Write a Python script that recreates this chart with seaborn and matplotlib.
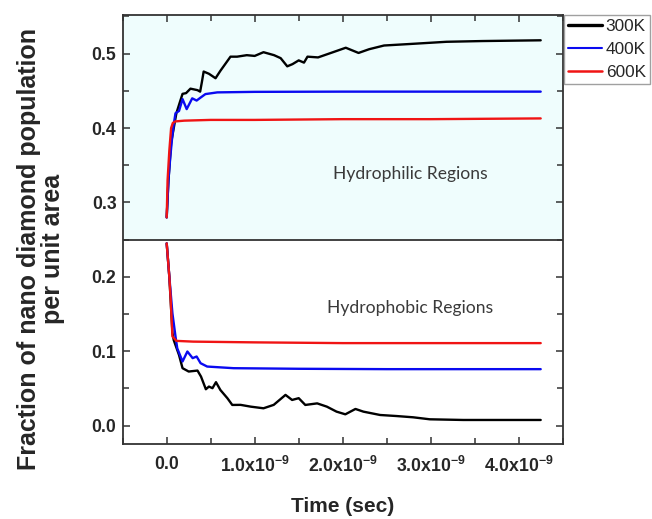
import numpy as np
import pandas as pd
import matplotlib
matplotlib.use("Agg")
import matplotlib.pyplot as plt
import seaborn as sns
from matplotlib import font_manager
from matplotlib.ticker import FixedLocator, FixedFormatter, MultipleLocator, FormatStrFormatter

# ---------------- data (time in ns) ----------------
temps = ["300K", "400K", "600K"]
colors = ["#000000", "#0a0af0", "#f01414"]

phil_300_t = [0, 0.02, 0.05, 0.08, 0.11, 0.15, 0.18, 0.22, 0.27, 0.35, 0.38, 0.40, 0.42, 0.48, 0.555,
              0.61, 0.725, 0.80, 0.91, 1.00, 1.10, 1.22, 1.295, 1.37, 1.43, 1.50, 1.56, 1.60, 1.72,
              1.89, 2.035, 2.18, 2.30, 2.47, 2.76, 3.18, 3.59, 4.25]
phil_300_v = [0.28, 0.33, 0.38, 0.40, 0.42, 0.435, 0.446, 0.447, 0.453, 0.451, 0.449, 0.462, 0.476,
              0.473, 0.467, 0.477, 0.496, 0.496, 0.498, 0.497, 0.502, 0.498, 0.494, 0.483, 0.486,
              0.491, 0.488, 0.496, 0.495, 0.502, 0.508, 0.501, 0.506, 0.511, 0.513, 0.516, 0.517, 0.518]

phil_400_t = [0, 0.02, 0.04, 0.06, 0.08, 0.10, 0.14, 0.18, 0.227, 0.29, 0.34, 0.385, 0.44, 0.575,
              1.0, 2.0, 3.0, 4.25]
phil_400_v = [0.28, 0.33, 0.36, 0.385, 0.405, 0.42, 0.423, 0.439, 0.4255, 0.44, 0.437, 0.441,
              0.4457, 0.448, 0.4487, 0.449, 0.449, 0.449]

phil_600_t = [0, 0.01, 0.03, 0.05, 0.07, 0.10, 0.20, 0.50, 1.0, 2.0, 3.0, 4.25]
phil_600_v = [0.28, 0.33, 0.37, 0.40, 0.407, 0.409, 0.410, 0.411, 0.411, 0.412, 0.412, 0.413]

phob_300_t = [0, 0.03, 0.065, 0.08, 0.14, 0.18, 0.25, 0.35, 0.39, 0.445, 0.48, 0.52, 0.56, 0.61,
              0.69, 0.745, 0.84, 0.955, 1.10, 1.216, 1.35, 1.425, 1.50, 1.575, 1.71, 1.82, 1.93,
              2.03, 2.145, 2.235, 2.425, 2.61, 2.80, 2.99, 3.37, 4.25]
phob_300_v = [0.245, 0.20, 0.125, 0.115, 0.095, 0.0773, 0.0728, 0.0741, 0.066, 0.049, 0.0526,
              0.0504, 0.0585, 0.048, 0.0369, 0.0279, 0.028, 0.0256, 0.0234, 0.028, 0.0414, 0.0346,
              0.037, 0.0279, 0.030, 0.0256, 0.0189, 0.0153, 0.0225, 0.0189, 0.0144, 0.013, 0.0113,
              0.0086, 0.0077, 0.0077]

phob_400_t = [0, 0.03, 0.065, 0.10, 0.12, 0.18, 0.235, 0.295, 0.34, 0.385, 0.46, 0.76, 1.5, 2.5, 4.25]
phob_400_v = [0.245, 0.20, 0.151, 0.12, 0.104, 0.0863, 0.0997, 0.0908, 0.093, 0.084, 0.0795,
              0.0773, 0.0765, 0.076, 0.076]

phob_600_t = [0, 0.03, 0.045, 0.065, 0.11, 0.3, 1.0, 2.0, 3.0, 4.25]
phob_600_v = [0.245, 0.20, 0.17, 0.12, 0.114, 0.113, 0.112, 0.111, 0.111, 0.111]

xtick_vals = [0, 1, 2, 3, 4]
xtick_labels = ["0.0", r"1.0x10$^{-9}$", r"2.0x10$^{-9}$", r"3.0x10$^{-9}$", r"4.0x10$^{-9}$"]

# ---------------- frame ----------------
series = [
    ("300K", "hydrophilic", phil_300_t, phil_300_v),
    ("400K", "hydrophilic", phil_400_t, phil_400_v),
    ("600K", "hydrophilic", phil_600_t, phil_600_v),
    ("300K", "hydrophobic", phob_300_t, phob_300_v),
    ("400K", "hydrophobic", phob_400_t, phob_400_v),
    ("600K", "hydrophobic", phob_600_t, phob_600_v),
]
rows = []
for temp, region, ts, vs in series:
    for t, v in zip(ts, vs):
        rows.append({"time": t * 1e-9, "frac": v, "temp": temp, "region": region})
df = pd.DataFrame(rows)

# ---------------- style ----------------
sns.set_style("ticks")
plt.rcParams["font.family"] = ["Liberation Sans", "DejaVu Sans"]
plt.rcParams["font.weight"] = "bold"
plt.rcParams["mathtext.default"] = "regular"

def has_font(name):
    try:
        font_manager.findfont(name, fallback_to_default=False)
        return True
    except Exception:
        return False

narrow = has_font("Liberation Sans Narrow")

W, H = 652, 519
fig = plt.figure(figsize=(W / 100, H / 100), dpi=100)
fig.patch.set_facecolor("white")
x0, x1, y0, y1 = 122.7, 562.7, 15, 444.3
ax = fig.add_axes([x0 / W, 1 - y1 / H, (x1 - x0) / W, (y1 - y0) / H])
ax.set_facecolor("white")

ax.axhspan(0.25, 0.6, color="#effdfd", zorder=0, lw=0)
ax.axhline(0.25, color="#333333", lw=1.3, zorder=1.5)

sns.lineplot(data=df, x="time", y="frac", hue="temp", hue_order=temps, palette=colors,
             units="region", estimator=None, sort=False, lw=1.7, ax=ax, legend=True)

ax.set_xlim(-0.5e-9, 4.5e-9)
ax.set_ylim(-0.025, 0.552)

ax.xaxis.set_major_locator(FixedLocator([v * 1e-9 for v in xtick_vals]))
ax.xaxis.set_major_formatter(FixedFormatter(xtick_labels))
ax.xaxis.set_minor_locator(MultipleLocator(0.5e-9))
ax.yaxis.set_major_locator(MultipleLocator(0.1))
ax.yaxis.set_minor_locator(MultipleLocator(0.05))
ax.yaxis.set_major_formatter(FormatStrFormatter("%.1f"))

ax.tick_params(which="both", direction="in", top=True, right=True, width=1.1, color="#333333")
ax.tick_params(which="major", length=5)
ax.tick_params(which="minor", length=4)
ax.tick_params(axis="y", which="major", labelsize=12.7, pad=4.5)
ax.tick_params(axis="x", which="major", labelsize=12.7, pad=8.5)
for lbl in ax.get_xticklabels() + ax.get_yticklabels():
    lbl.set_fontweight("bold")
for s in ax.spines.values():
    s.set_linewidth(1.3)
    s.set_color("#333333")

ax.set_xlabel("")
ax.set_ylabel("")

# annotations
ax.text(2.765e-9, 0.338, "Hydrophilic Regions", family=["Lato", "DejaVu Sans"], fontsize=12.6,
        fontweight="normal", color="#3a3a3a", ha="center", va="center")
ax.text(2.76e-9, 0.158, "Hydrophobic Regions", family=["Lato", "DejaVu Sans"], fontsize=12.6,
        fontweight="normal", color="#3a3a3a", ha="center", va="center")

# axis titles
fig.text(41 / W, 1 - 249 / H, "Fraction of nano diamond population\nper unit area",
         rotation=90, ha="center", va="center", ma="center", fontsize=18, fontweight="bold",
         linespacing=1.05)
if narrow:
    fig.text((x0 + x1) / 2 / W, 1 - 506 / H, "Time (sec)", family=["Liberation Sans Narrow"],
             fontsize=17, fontweight="bold", ha="center", va="center")
else:
    fig.text((x0 + x1) / 2 / W, 1 - 506 / H, "Time (sec)", fontsize=15, fontweight="bold",
             ha="center", va="center")

# legend
handles, labels = ax.get_legend_handles_labels()
if ax.get_legend() is not None:
    ax.get_legend().remove()
leg = fig.legend(handles, labels, loc="upper left", bbox_to_anchor=(563.5 / W, 1 - 15 / H),
                 frameon=True, fancybox=False, shadow=False, borderpad=0.25,
                 handlelength=2.0, handletextpad=0.2, labelspacing=0.45, borderaxespad=0,
                 prop={"family": "Liberation Sans", "weight": "normal", "size": 12.4})
leg.get_frame().set_edgecolor("#888888")
leg.get_frame().set_linewidth(1.0)
for h, lw in zip(leg.get_lines(), [2.4, 1.5, 1.8]):
    h.set_linewidth(lw)

fig.savefig("out.png", dpi=100)
